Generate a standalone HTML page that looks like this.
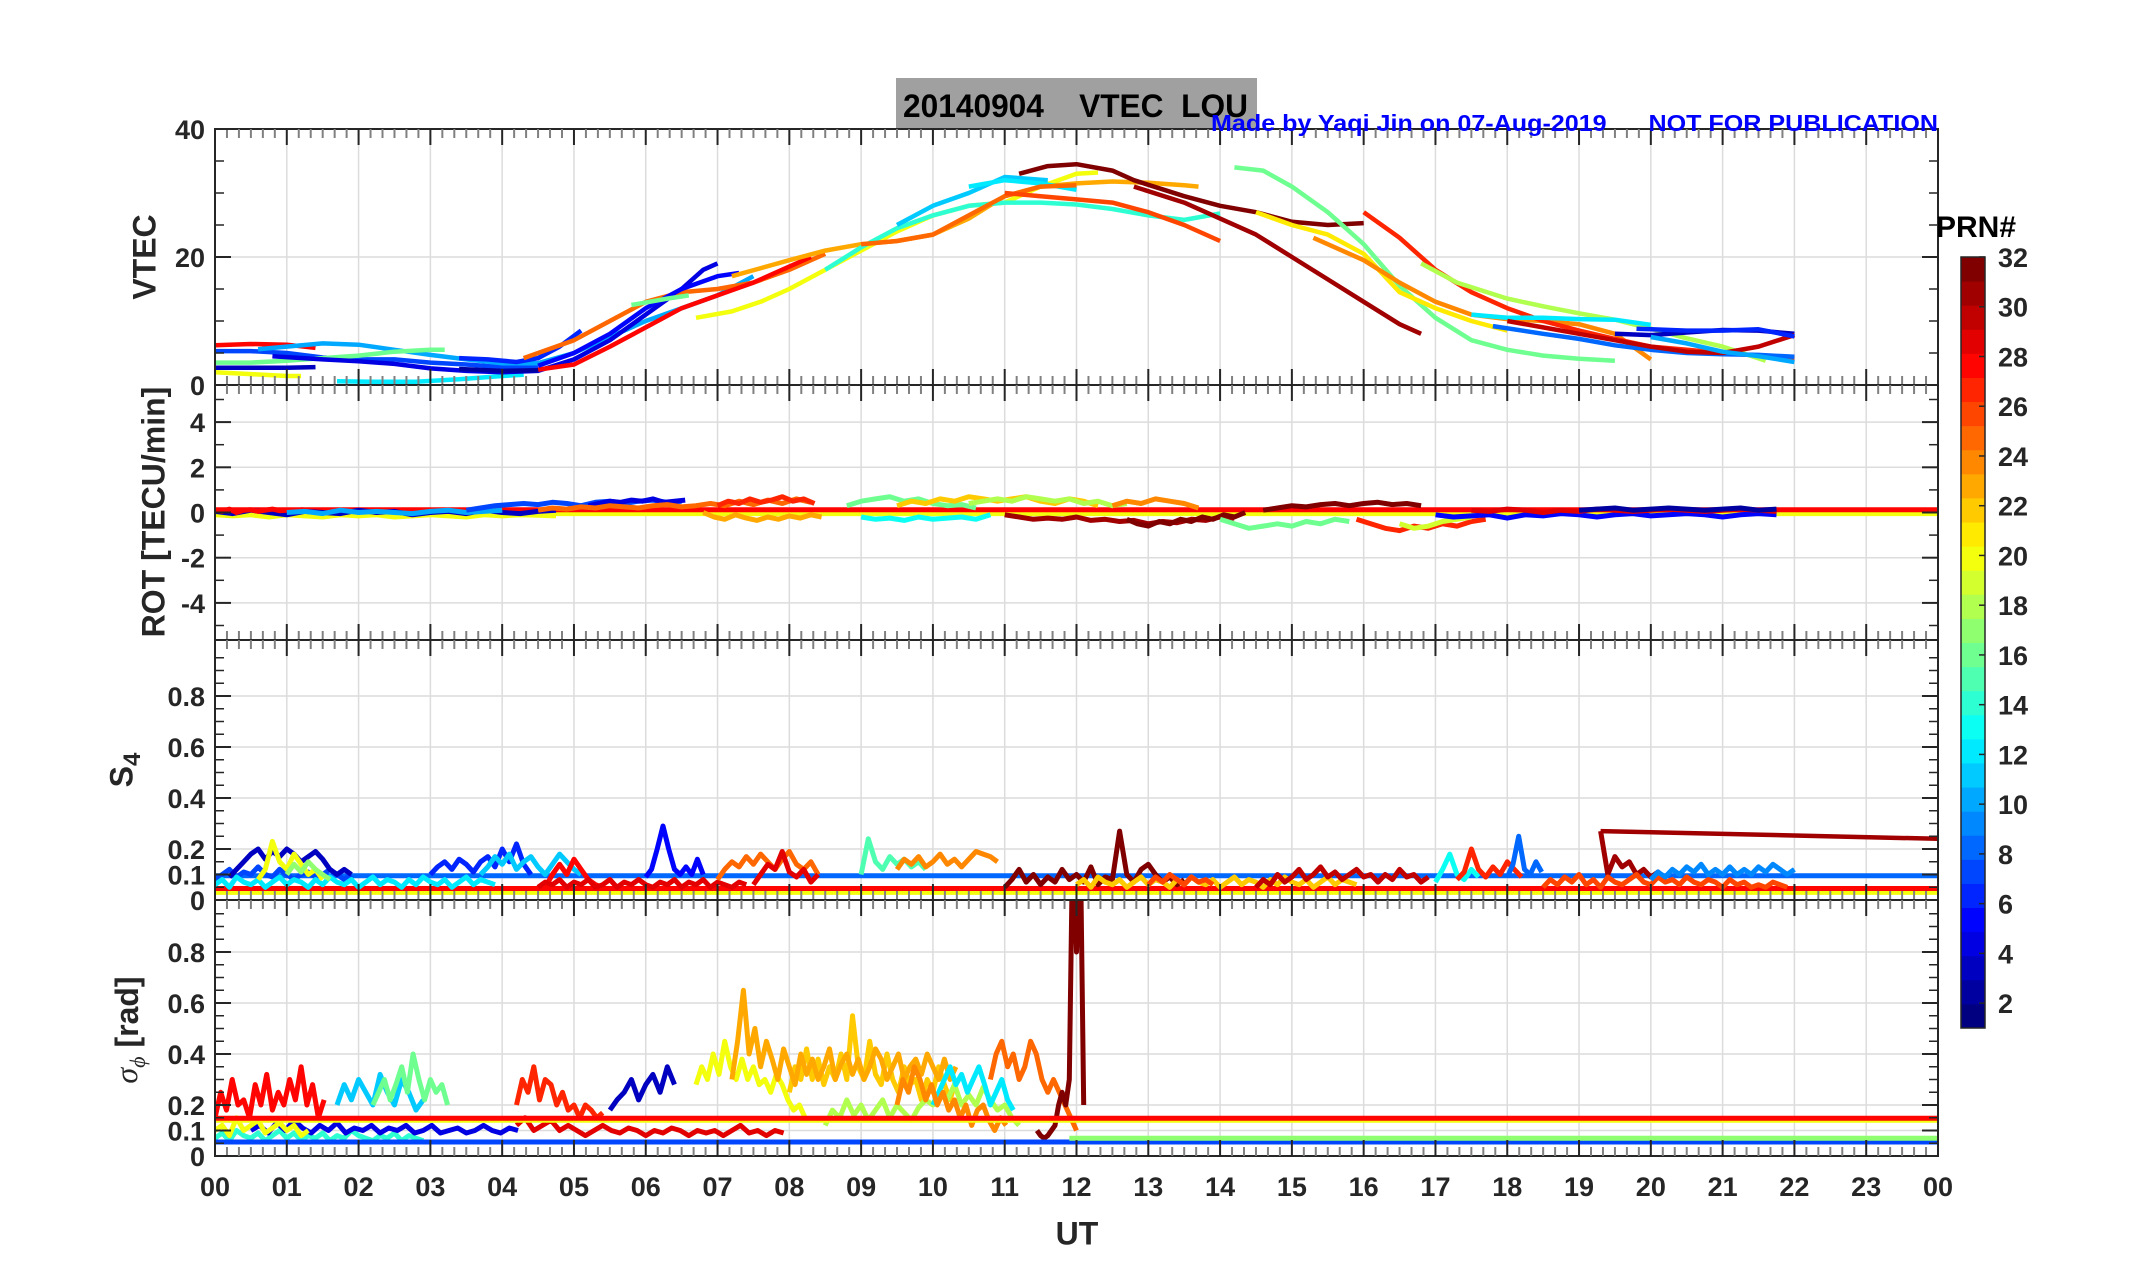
<!DOCTYPE html>
<html><head><meta charset="utf-8"><title>VTEC LOU 20140904</title>
<style>
html,body{margin:0;padding:0;background:#fff;}
svg{display:block;font-family:"Liberation Sans",Arial,sans-serif;}
.tk{font-weight:bold;font-size:27px;fill:#262626;}
.lab{font-weight:bold;font-size:32px;fill:#262626;}
.pre{white-space:pre;}
</style></head>
<body>
<svg id="chart" xmlns="http://www.w3.org/2000/svg" width="2153" height="1286" viewBox="0 0 2153 1286">
<rect x="896" y="78" width="361" height="52" fill="#a0a0a0"/>
<text class="pre" xml:space="preserve" x="903" y="117" font-size="32" font-weight="bold" fill="#000" textLength="345" lengthAdjust="spacingAndGlyphs">20140904    VTEC  LOU</text>
<g id="plots"></g>
<text class="pre" xml:space="preserve" x="1211" y="131" font-size="23" font-weight="bold" fill="#0000ff" textLength="727" lengthAdjust="spacingAndGlyphs">Made by Yaqi Jin on 07-Aug-2019      NOT FOR PUBLICATION</text>
</svg>
<script>
// ---------- data ----------
const hourTicks = ["00","01","02","03","04","05","06","07","08","09","10","11","12","13","14","15","16","17","18","19","20","21","22","23","00"];
const vtecTicks = [0,20,40];
const rotTicks = [-4,-2,0,2,4];
const s4Ticks = [0,0.1,0.2,0.4,0.6,0.8];
const sigTicks = [0,0.1,0.2,0.4,0.6,0.8];
const prnTicks = [2,4,6,8,10,12,14,16,18,20,22,24,26,28,30,32];

// VTEC series: [prn, [hour, value, hour, value, ...]]
const vtecSeries = [
 [28,[0,6.2,0.5,6.4,1,6.3,1.4,5.8]],
 [7,[0,5.3,0.5,5.3,1,5,1.5,4.3,2,4,2.5,4,3,3.5,3.5,3.2,4,2.8,4.3,2.8,4.5,3]],
 [10,[0.6,5.6,1,6,1.5,6.5,2,6.3,2.5,5.5,3,4.7,3.5,4,4,3.4,4.5,3.4,5,5,5.5,7.5,6,10,6.5,12,7,14,7.5,17]],
 [16,[0,3.5,0.5,3.5,1,3.8,1.5,4.2,2,4.6,2.5,5.2,3,5.5,3.2,5.5]],
 [3,[0,2.7,0.5,2.7,1,2.7,1.4,2.8]],
 [20,[0,2,0.5,1.7,1,1.4,1.2,1.4]],
 [12,[1.7,0.6,2.2,0.5,2.8,0.5,3.4,0.9,4,1.4,4.3,1.6]],
 [4,[0.8,4.5,1.5,4,2,3.7,2.5,3.3,3,2.6,3.5,2.2,4,2,4.5,2.2,5,4,5.5,7,6,11,6.5,15,6.8,18,7,19]],
 [6,[3.4,4.2,3.8,4,4.2,3.6,4.5,4.2,4.8,6,5.1,8.5]],
 [2,[3.4,2.5,4,2.2,4.5,2.3]],
 [25,[4.3,4.2,5,7,5.5,10,6,13,6.5,14.5,7,15,7.5,16,8,18,8.5,20.5]],
 [28,[4.5,2.4,5,3.2,5.5,6,6,9,6.5,12,7,14,7.5,16,8,18.5,8.3,20]],
 [5,[4.5,3,5,5,5.5,8,6,12,6.5,15,7,17,7.3,17.5]],
 [16,[5.8,12.5,6.3,13.5,6.6,14]],
 [20,[6.7,10.5,7.2,11.5,7.6,13,8,15,8.5,18,9,21,9.5,24,10,26.5,10.5,28,11,28.5,11.5,31,12,33,12.3,33.2]],
 [23,[7.2,17,8,19.5,8.5,21,9,22,9.5,22.5,10,23.5,10.5,26,11,29.5,11.5,31,12,31.5,12.5,31.8,13,31.6,13.5,31.2,13.7,31]],
 [14,[8.5,18,9,21.5,9.5,24.5,10,26.5,10.5,28,11,28.5,11.5,28.5,12,28.2,12.5,27.5,13,26.5,13.5,25.8,14,26.8]],
 [11,[9.5,25,10,28,10.5,30,11,32.5,11.6,32]],
 [12,[10.5,31,11,32,11.5,31.5,12,30.5]],
 [25,[9,22,9.5,22.5,10,23.5,10.5,26.5,11,29.5,11.5,31,12,31.2]],
 [26,[11,30,11.5,29.5,12,29,12.5,28.5,13,27,13.5,25,14,22.5]],
 [32,[11.2,33,11.6,34.2,12,34.5,12.5,33.5,12.8,32,13.5,29.5,14,28,14.5,27,15,25.5,15.5,25,16,25.3]],
 [31,[12.8,31,13.5,28.5,14,26,14.5,23.5,15,20,15.5,16.5,16,13,16.5,9.5,16.8,8]],
 [16,[14.2,34,14.6,33.5,15,31,15.5,27,16,22,16.5,15.5,17,10.5,17.5,7,18,5.5,18.5,4.6,19,4.1,19.5,3.8]],
 [21,[14.5,27,15,25,15.5,23.5,16,20.5,16.5,14.5,17,12,17.5,10,18,8.5]],
 [24,[15.3,23,16,19.5,16.5,16,17,13,17.5,11,18,10.3,18.5,10,19,9.5,19.5,8,20,4]],
 [27,[16,27,16.5,23,17,18,17.5,14.5,18,12,18.5,10,19,8.5,19.5,7.2,20,6,20.5,5.5,21,5,21.5,4.6,22,4.2]],
 [18,[16.8,19,17.3,16,18,13.5,18.5,12.3,19,11.2,19.5,10.2,20,8.8,20.5,7.3,21,6,21.6,3.8]],
 [12,[17.5,11,18,10.5,18.5,10.5,19,10.3,19.5,10.2,20,9.4]],
 [8,[17.8,9.2,18.5,8,19,7.2,19.5,6.2,20,5.5,20.5,5,21,4.8,21.5,4.7,22,4.4]],
 [3,[19.5,8,20,7.8,20.5,8.2,21,8.6,21.5,8.5,22,8]],
 [30,[18,10,18.5,9,19,8,19.5,7,20,6,20.5,5.2,21,5,21.5,6,22,7.8]],
 [10,[20,7.5,20.5,6.5,21,5.2,21.5,4.5,22,3.6]],
 [6,[19.8,8.8,20.5,8.5,21,8.5,21.5,8.7,22,7.6]]
];

// ROT series: [prn, startHour, stepHour, values...]
const rotSeries = [
 [20,0,0.25,[-0.1,-0.15,-0.1,-0.2,-0.1,-0.15,-0.2,-0.1,-0.15,-0.1,-0.2,-0.15,-0.1,-0.15,-0.2,-0.1,-0.15,-0.1,-0.12,-0.15]],
 [3,0,0.25,[0.05,-0.05,0.1,0,-0.1,0.05,0,-0.05,0.1,0,0.05,-0.1,0,0.05,-0.05,0.1,0,-0.05,0.05,0.1]],
 [28,0,0.1,[0.1,0.05,0.15,0,0.1,0.12,0.05,0.1,0.15,0.08,0.1,0.05,0.12,0.1]],
 [10,1,0.25,[0,0.05,-0.05,0.1,0,0.05,0,-0.05,0.05,0.1,0,0.05,0.1]],
 [7,3.5,0.2,[0.1,0.2,0.3,0.35,0.4,0.35,0.45,0.4,0.3,0.45,0.5,0.4,0.5,0.55,0.45,0.5]],
 [4,5.2,0.15,[0.3,0.4,0.5,0.45,0.55,0.5,0.6,0.45,0.5,0.55]],
 [25,4.5,0.2,[0.1,0.2,0.15,0.25,0.2,0.3,0.25,0.2,0.3,0.35,0.25,0.3,0.4,0.3,0.5,0.35,0.55,0.4,0.6,0.45]],
 [23,6.8,0.15,[0,-0.2,-0.3,-0.1,-0.25,-0.35,-0.2,-0.3,-0.15,-0.25,-0.1,-0.2]],
 [27,7,0.15,[0.3,0.5,0.4,0.6,0.45,0.55,0.7,0.5,0.6,0.4]],
 [16,8.8,0.2,[0.3,0.5,0.6,0.7,0.5,0.6,0.4,0.3,0.35,0.2]],
 [13,9,0.2,[-0.2,-0.3,-0.25,-0.35,-0.2,-0.3,-0.25,-0.2,-0.3,-0.1]],
 [22,9.5,0.2,[0.3,0.5,0.4,0.6,0.5,0.7,0.6,0.5,0.6,0.7,0.5,0.4,0.6,0.5,0.3]],
 [18,10.5,0.2,[0.4,0.5,0.6,0.5,0.7,0.6,0.5,0.6,0.4,0.5,0.3,0.4]],
 [31,11,0.2,[-0.1,-0.2,-0.3,-0.25,-0.3,-0.2,-0.35,-0.3,-0.4,-0.35,-0.5,-0.4,-0.45,-0.3,-0.35,-0.2,-0.25]],
 [32,12.7,0.15,[-0.3,-0.5,-0.6,-0.4,-0.5,-0.3,-0.4,-0.2,-0.3,-0.1,-0.2,0]],
 [24,12.5,0.2,[0.3,0.5,0.4,0.6,0.5,0.4,0.2]],
 [16,14,0.2,[-0.3,-0.5,-0.7,-0.6,-0.5,-0.6,-0.4,-0.5,-0.3,-0.4]],
 [32,14.6,0.2,[0.1,0.2,0.3,0.25,0.35,0.4,0.3,0.4,0.45,0.35,0.4,0.3]],
 [27,15.9,0.2,[-0.3,-0.5,-0.7,-0.8,-0.6,-0.7,-0.5,-0.6,-0.4,-0.3]],
 [19,16.5,0.2,[-0.5,-0.7,-0.6,-0.4,-0.3,-0.2]],
 [5,17,0.25,[-0.1,-0.2,-0.15,-0.1,-0.25,-0.1,-0.15,-0.05,-0.1,-0.2,-0.1,-0.05,-0.15,-0.1,-0.05,-0.1,-0.2,-0.1,-0.05,-0.1]],
 [29,17.5,0.25,[0.1,0.05,0.15,0.1,0,0.1,0.05,0.15,0.1,0.05,0.1,0.15,0.1,0.05,0.1,0.15,0.1,0.05]],
 [2,19,0.25,[0.1,0.15,0.2,0.1,0.15,0.2,0.15,0.1,0.15,0.2,0.1,0.15]]
];
// ROT flat lines: [prn, fromHour, toHour, value]
const rotLines = [[20,0,24,-0.05],[28,0,24,0.12]];

// S4 series
const s4Series = [
 [7,0,0.1,[0.08,0.1,0.12,0.09,0.11,0.1,0.13,0.1,0.09,0.12,0.1,0.08,0.1,0.11,0.09,0.1,0.12,0.1,0.08,0.1]],
 [12,0,0.1,[0.06,0.08,0.05,0.09,0.07,0.06,0.08,0.05,0.07,0.09,0.06,0.08,0.07,0.05,0.08,0.06,0.09,0.07,0.06,0.08,0.05,0.07,0.09,0.06,0.08,0.07,0.05,0.08,0.06,0.09,0.07,0.06,0.08,0.05,0.07,0.09,0.06,0.08,0.07,0.06]],
 [3,0.2,0.1,[0.09,0.12,0.15,0.18,0.2,0.16,0.19,0.17,0.2,0.18,0.15,0.17,0.19,0.16,0.12,0.1,0.12,0.1]],
 [20,0.6,0.1,[0.08,0.12,0.23,0.15,0.12,0.18,0.14,0.1,0.12,0.08]],
 [17,1,0.1,[0.1,0.14,0.11,0.15,0.12,0.1,0.08]],
 [6,3,0.1,[0.1,0.13,0.15,0.12,0.16,0.14,0.11,0.15,0.17,0.13,0.2,0.15,0.22,0.14,0.1]],
 [11,3.7,0.1,[0.1,0.13,0.17,0.14,0.18,0.12,0.15,0.17,0.13,0.1,0.14,0.18,0.15,0.12,0.1]],
 [28,4.6,0.1,[0.05,0.1,0.14,0.1,0.16,0.12,0.08,0.06,0.05]],
 [29,4.5,0.1,[0.05,0.07,0.06,0.08,0.05,0.07,0.06,0.08,0.05,0.06,0.08,0.05,0.07,0.06,0.08,0.06,0.05,0.07,0.06,0.08,0.05,0.07,0.06,0.08,0.05,0.07,0.06,0.05,0.07,0.06]],
 [5,6,0.08,[0.09,0.12,0.2,0.29,0.2,0.12,0.1,0.13,0.1,0.16,0.1]],
 [25,7,0.1,[0.08,0.12,0.15,0.13,0.17,0.14,0.18,0.15,0.12,0.16,0.19,0.14,0.12,0.15,0.1]],
 [29,7.5,0.1,[0.06,0.1,0.14,0.12,0.19,0.11,0.09,0.12,0.07,0.1]],
 [15,9,0.1,[0.1,0.24,0.15,0.12,0.17,0.14,0.16,0.13,0.15,0.12]],
 [24,9.5,0.1,[0.12,0.16,0.14,0.17,0.13,0.15,0.18,0.14,0.16,0.13,0.16,0.19,0.18,0.17,0.15]],
 [32,11,0.1,[0.05,0.08,0.12,0.07,0.1,0.06,0.09,0.07,0.12,0.08,0.1,0.07,0.13,0.06,0.09,0.08,0.27,0.1,0.07,0.12,0.14,0.1,0.07,0.09,0.06,0.08]],
 [22,12,0.1,[0.06,0.08,0.05,0.09,0.07,0.06,0.08,0.05,0.07,0.09,0.06,0.08,0.07,0.05,0.08,0.06,0.09,0.07,0.06,0.08,0.05,0.07,0.09,0.06,0.08,0.07,0.05,0.08,0.06,0.09,0.07,0.06,0.08,0.05,0.07,0.09,0.06,0.08,0.07,0.06]],
 [26,13,0.1,[0.06,0.09,0.07,0.1,0.08,0.06,0.09,0.07,0.08,0.06]],
 [30,14.5,0.1,[0.05,0.08,0.06,0.1,0.07,0.09,0.12,0.08,0.1,0.13,0.09,0.11,0.08,0.1,0.12,0.09,0.1,0.07,0.1,0.08,0.12,0.09,0.1,0.07,0.09]],
 [13,17,0.1,[0.07,0.12,0.18,0.1,0.08,0.12,0.09]],
 [27,17.3,0.1,[0.08,0.11,0.2,0.12,0.09,0.13,0.1,0.15,0.12,0.09]],
 [8,18,0.08,[0.09,0.14,0.25,0.12,0.1,0.15,0.11]],
 [31,19.3,0.1,[0.27,0.1,0.17,0.13,0.15,0.1,0.12,0.09,0.11,0.08]],
 [26,18.5,0.1,[0.05,0.08,0.06,0.09,0.07,0.1,0.06,0.08,0.05,0.09,0.07,0.06,0.08,0.1,0.07,0.06,0.09,0.07,0.08,0.06,0.09,0.07,0.06,0.08,0.07,0.05,0.08,0.06,0.07,0.05,0.06,0.05,0.07,0.06,0.05]],
 [9,20,0.1,[0.08,0.11,0.09,0.12,0.1,0.13,0.11,0.14,0.1,0.12,0.1,0.13,0.1,0.12,0.1,0.13,0.11,0.14,0.12,0.1,0.12]]
];
const s4Lines = [[8,0,24,0.095],[20,0,24,0.03],[28,0,24,0.045]];
const s4Slope = [31,19.3,24,0.27,0.24];

// sigma-phi series
const sigSeries = [
 [14,0,0.1,[0.07,0.09,0.06,0.1,0.08,0.07,0.09,0.06,0.08,0.1,0.07,0.09,0.06,0.08,0.07,0.09,0.06,0.08,0.07,0.1,0.08,0.07,0.06,0.08,0.07,0.09,0.06,0.08,0.07,0.06]],
 [4,0.5,0.12,[0.1,0.12,0.09,0.13,0.1,0.14,0.11,0.09,0.12,0.1,0.13,0.09,0.11,0.1,0.12,0.09,0.11,0.1,0.12,0.09,0.1,0.12,0.09,0.1,0.11,0.09,0.1,0.12,0.1,0.09,0.11,0.1]],
 [20,0,0.1,[0.1,0.12,0.08,0.15,0.1,0.12,0.14,0.09,0.11,0.13,0.1,0.12,0.08,0.1]],
 [28,0,0.08,[0.15,0.25,0.18,0.3,0.2,0.22,0.15,0.28,0.2,0.32,0.18,0.25,0.2,0.3,0.22,0.35,0.2,0.28,0.15,0.22]],
 [11,1.7,0.1,[0.2,0.28,0.22,0.3,0.25,0.2,0.32,0.25,0.2,0.3,0.25,0.18,0.22]],
 [16,2.2,0.08,[0.2,0.25,0.3,0.22,0.28,0.35,0.25,0.4,0.3,0.22,0.3,0.25,0.28,0.2]],
 [29,4.2,0.12,[0.12,0.15,0.1,0.12,0.14,0.1,0.12,0.1,0.08,0.1,0.12,0.1,0.09,0.11,0.1,0.08,0.1,0.09,0.11,0.1,0.08,0.1,0.09,0.1,0.08,0.1,0.12,0.09,0.1,0.08,0.1,0.09]],
 [27,4.2,0.08,[0.2,0.3,0.25,0.35,0.22,0.3,0.28,0.2,0.25,0.18,0.2,0.15,0.2,0.18,0.15,0.17]],
 [3,5.5,0.1,[0.18,0.22,0.25,0.3,0.22,0.28,0.32,0.25,0.35,0.28]],
 [20,6.7,0.08,[0.28,0.35,0.3,0.4,0.32,0.45,0.35,0.3,0.38,0.3,0.35,0.28,0.3,0.25,0.32,0.28,0.22,0.18,0.2,0.15]],
 [22,8,0.08,[0.25,0.35,0.3,0.42,0.3,0.38,0.28,0.35,0.3,0.4,0.3,0.55,0.35,0.3,0.45,0.32,0.28,0.4,0.3,0.25,0.35,0.28,0.3,0.22,0.3,0.25,0.35,0.28,0.22,0.3]],
 [23,7.2,0.08,[0.3,0.45,0.65,0.4,0.5,0.35,0.45,0.38,0.3,0.42,0.35,0.28,0.4,0.32,0.38,0.3,0.35,0.42,0.3,0.36,0.4,0.32,0.38,0.3,0.35,0.42,0.38,0.3,0.35,0.4,0.3,0.35,0.38,0.32,0.4,0.35,0.3,0.38,0.3,0.35]],
 [18,8.5,0.1,[0.12,0.18,0.15,0.22,0.16,0.2,0.14,0.18,0.22,0.15,0.2,0.17,0.14,0.19,0.22,0.2,0.26,0.22,0.28,0.2,0.24,0.2,0.27,0.22,0.18,0.2,0.15,0.12]],
 [12,10,0.08,[0.2,0.25,0.3,0.35,0.28,0.32,0.25,0.3,0.35,0.28,0.2,0.25,0.3,0.22,0.18]],
 [24,9.5,0.08,[0.2,0.3,0.25,0.35,0.3,0.22,0.28,0.2,0.25,0.18,0.22,0.15,0.2,0.12,0.18,0.2,0.14,0.1,0.15,0.12]],
 [25,10.8,0.08,[0.3,0.4,0.45,0.35,0.4,0.3,0.35,0.45,0.4,0.3,0.25,0.3,0.25,0.2,0.15,0.1]],
 [32,11.45,0.05,[0.1,0.08,0.07,0.08,0.1,0.12,0.2,0.25,0.2,0.3,1.3,0.8,1.3,0.2]]
];
const sigLines = [[7,0,24,0.055],[17,11.9,24,0.07],[20,0,24,0.14],[28,0,24,0.148]];

// ---------- geometry ----------
const X0=215, X1=1938;
const x = h => X0 + h*(X1-X0)/24;
const panels = [
 {name:'vtec',top:129,bot:385,y:v=>385-v*6.4},
 {name:'rot',top:385,bot:640,y:v=>512.5-v*22.6},
 {name:'s4',top:640,bot:900,y:v=>900-v*255},
 {name:'sigma',top:900,bot:1156,y:v=>1156-v*255}
];
function jet(p){
  const v=(p-1)/31;
  const c=t=>Math.round(255*Math.max(0,Math.min(1,1.5-Math.abs(4*v-t))));
  return `rgb(${c(3)},${c(2)},${c(1)})`;
}
const NS='http://www.w3.org/2000/svg';
const root=document.getElementById('plots');
function mk(tag,attrs,parent){const e=document.createElementNS(NS,tag);for(const k in attrs)e.setAttribute(k,attrs[k]);(parent||root).appendChild(e);return e;}

const defs=mk('defs',{});
panels.forEach((p,i)=>{const c=mk('clipPath',{id:'clip'+i},defs);mk('rect',{x:X0,y:p.top,width:X1-X0,height:p.bot-p.top},c);});

const tickSets=[vtecTicks,rotTicks,s4Ticks,sigTicks];
const minorSets=[[5,10,15,25,30,35],[-5,-3,-1,1,3,5],[0.05,0.15,0.25,0.3,0.35,0.45,0.5,0.55,0.65,0.7,0.75,0.85,0.9,0.95],[0.05,0.15,0.25,0.3,0.35,0.45,0.5,0.55,0.65,0.7,0.75,0.85,0.9,0.95]];

panels.forEach((p,i)=>{
  const g=mk('g',{});
  
  
  for(let h=1;h<24;h++){const l=mk('line',{x1:x(h),x2:x(h),y1:p.top,y2:p.bot,stroke:'#dcdcdc','stroke-width':1.5},g);
    
    }
  tickSets[i].forEach(v=>{const yy=p.y(v); if(yy>p.top+1&&yy<p.bot-1){const l=mk('line',{x1:X0,x2:X1,y1:yy,y2:yy,stroke:'#dcdcdc','stroke-width':1.5},g);
    
    }});
});

function seriesPath(pi, prn, pts, cls, w){
  const p=panels[pi];
  let d='';
  for(let k=0;k<pts.length;k+=2){d+=(k?'L':'M')+x(pts[k]).toFixed(1)+','+p.y(pts[k+1]).toFixed(1);}
  const e=mk('path',{d:d,fill:'none',stroke:jet(prn),'stroke-width':w||4.5,'stroke-linejoin':'round','clip-path':`url(#clip${pi})`});
  
  
}
vtecSeries.forEach(s=>seriesPath(0,s[0],s[1],'vtec-line'));
function noisy(pi,arr,cls){arr.forEach(s=>{const pts=[];s[3].forEach((v,k)=>{pts.push(s[1]+k*s[2],v);});seriesPath(pi,s[0],pts,cls,5);});}
function flat(pi,arr,cls){arr.forEach(s=>seriesPath(pi,s[0],[s[1],s[3],s[2],s[3]],cls,5));}
flat(1,rotLines,'rot-baseline');
noisy(1,rotSeries,'rot-trace');
flat(2,s4Lines,'s4-baseline');
noisy(2,s4Series,'s4-trace');
seriesPath(2,s4Slope[0],[s4Slope[1],s4Slope[3],s4Slope[2],s4Slope[4]],'s4-slope-line');
noisy(3,sigSeries,'sigma-trace');
flat(3,sigLines,'sigma-baseline');

panels.forEach((p,i)=>{
  const g=mk('g',{});
  
  
  mk('rect',{x:X0,y:p.top,width:X1-X0,height:p.bot-p.top,fill:'none',stroke:'#262626','stroke-width':2},g);
  for(let m=1;m<144;m++){
    const xx=x(m/6); const major=m%6===0;
    const len=major?16:9; const col=major?'#262626':'#808080';
    mk('line',{x1:xx,x2:xx,y1:p.top,y2:p.top+len,stroke:col,'stroke-width':2},g);
    mk('line',{x1:xx,x2:xx,y1:p.bot,y2:p.bot-len,stroke:col,'stroke-width':2},g);
  }
  tickSets[i].forEach(v=>{const yy=p.y(v);
    mk('line',{x1:X0,x2:X0+16,y1:yy,y2:yy,stroke:'#262626','stroke-width':2},g);
    mk('line',{x1:X1,x2:X1-16,y1:yy,y2:yy,stroke:'#262626','stroke-width':2},g);
    const t=mk('text',{x:X0-10,y:yy+10,'text-anchor':'end',class:'tk'},g);
    t.textContent=String(v);
    
    
  });
  minorSets[i].forEach(v=>{const yy=p.y(v); if(yy>=p.top&&yy<=p.bot){
    mk('line',{x1:X0,x2:X0+9,y1:yy,y2:yy,stroke:'#262626','stroke-width':1.5},g);
    mk('line',{x1:X1,x2:X1-9,y1:yy,y2:yy,stroke:'#262626','stroke-width':1.5},g);}});
});
hourTicks.forEach((lab,h)=>{
  const t=mk('text',{x:x(h),y:1196,'text-anchor':'middle',class:'tk'});
  t.textContent=lab;
  
  
});
function lab(txt,cx,cy,rot,name,extra){
  const t=mk('text',{x:cx,y:cy,'text-anchor':'middle','dominant-baseline':'middle',class:'lab',transform:rot?`rotate(-90 ${cx} ${cy})`:''});
  if(extra)extra(t);else t.textContent=txt;
  
  
  return t;
}
lab('UT',1077,1236,false,'x-axis-title');
lab('VTEC',147,257,true,'vtec-axis-title');
lab('ROT [TECU/min]',156,512,true,'rot-axis-title');
lab('',124,770,true,'s4-axis-title',t=>{t.innerHTML='S<tspan dy="10" font-size="24">4</tspan>';});
lab('',130,1030,true,'sigma-axis-title',t=>{t.innerHTML='<tspan font-family="Liberation Serif" font-style="italic" font-weight="normal">σ</tspan><tspan dy="10" font-size="22" font-family="Liberation Serif" font-style="italic" font-weight="normal">ϕ</tspan><tspan dy="-10"> [rad]</tspan>';});

const cb=mk('g',{});


const CT=257, CB=1028, CX=1961, CW=24;
const cy = p => CB-(p-1)/31*(CB-CT);
for(let p=1;p<=32;p++){
  const y1=CB-(p-1)/32*(CB-CT), y2=CB-p/32*(CB-CT);
  mk('rect',{x:CX,y:y2,width:CW,height:y1-y2+0.5,fill:jet(p)},cb);
}
mk('rect',{x:CX,y:CT,width:CW,height:CB-CT,fill:'none',stroke:'#262626','stroke-width':1.5},cb);
prnTicks.forEach(p=>{
  const yy=cy(p);
  mk('line',{x1:CX+CW-6,x2:CX+CW,y1:yy,y2:yy,stroke:'#262626','stroke-width':1.5},cb);
  const t=mk('text',{x:CX+CW+13,y:yy+10,class:'tk'},cb);
  t.textContent=String(p);
  
  
});
const pt=mk('text',{x:1976,y:237,'text-anchor':'middle','font-size':30,'font-weight':'bold',fill:'#000'},cb);
pt.textContent='PRN#';


</script>
</body></html>
